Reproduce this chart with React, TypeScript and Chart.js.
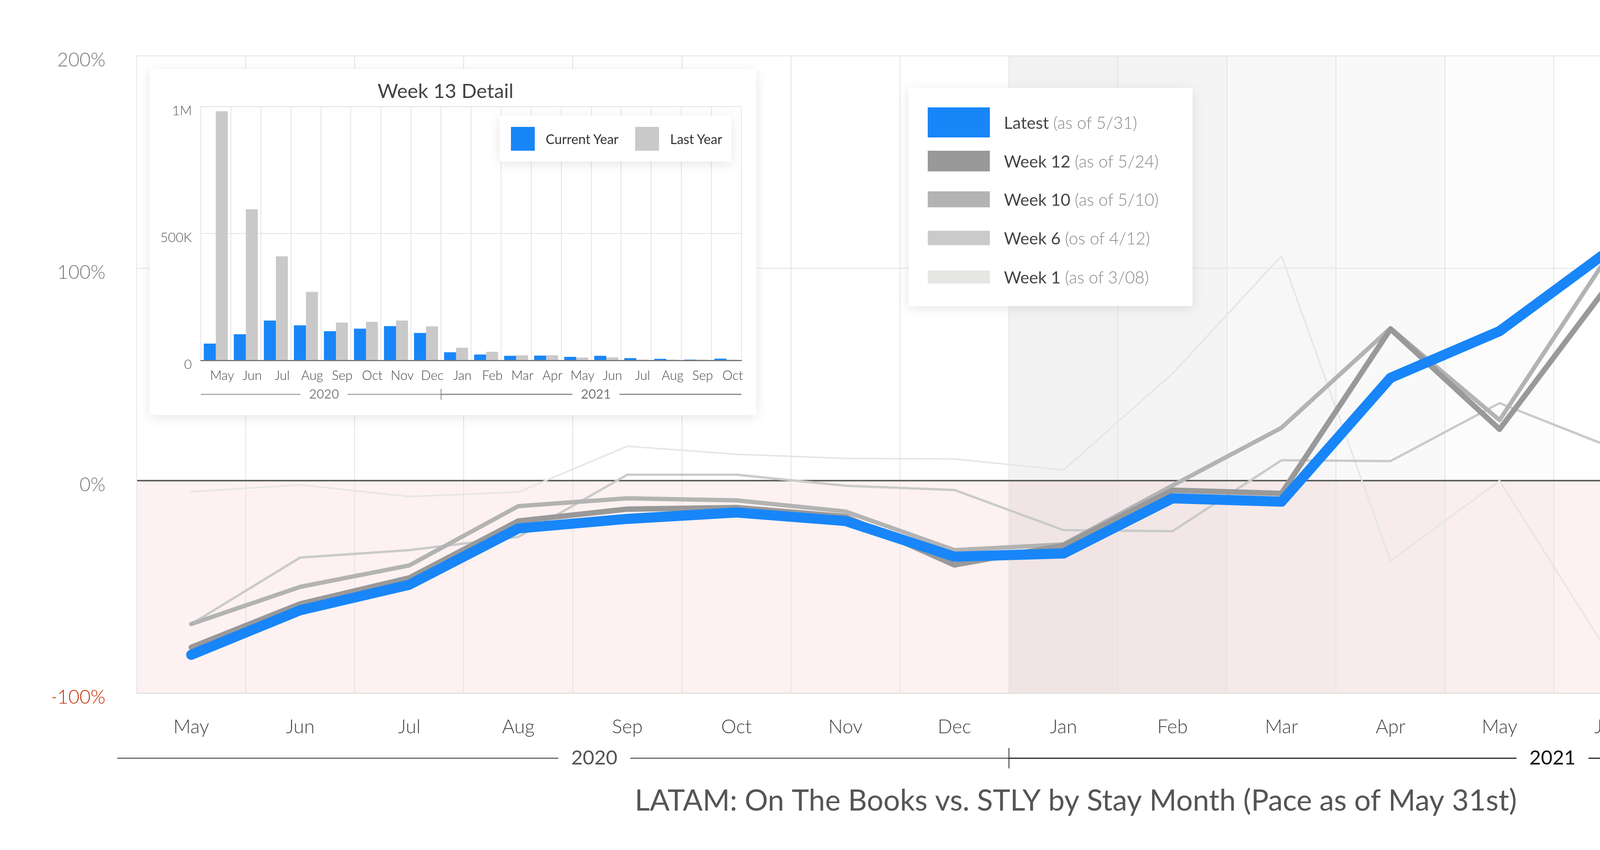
import { useEffect, useRef } from 'react'
import { Chart, registerables } from 'chart.js'
import type { Plugin } from 'chart.js'

Chart.register(...registerables)

// stay months, May 2020 .. Oct 2021
const months = ['May', 'Jun', 'Jul', 'Aug', 'Sep', 'Oct', 'Nov', 'Dec', 'Jan', 'Feb', 'Mar', 'Apr', 'May', 'Jun', 'Jul', 'Aug', 'Sep', 'Oct']
const yearLabels = ['2020', '2021']
const yearFirstIndex = [0, 8]
const yearLastIndex = [7, 17]

// OTB vs STLY, percent
const latest = [-82, -61, -49, -22.5, -18, -15, -19, -35.8, -34.3, -8.3, -9.9, 48.4, 70.4, 108.2, 18.6, -40.2, 81.3, -16.3]
const week12 = [-78.5, -58, -45.8, -19, -13.4, -12.7, -16.9, -39.7, -30.5, -4.5, -6, 71.4, 24.2, 92.3, -24.8, -52.1, -29.2, -30.8]
const week10 = [-67.5, -50, -39.9, -12, -8.3, -9.3, -14.5, -32.7, -30, -2.3, 24.9, 71.8, 28.5, 106.2, -44.8, -50.2, -19.3, 45.5]
const week6 = [-67.5, -36.2, -32.7, -26.5, 2.8, 2.8, -2.4, -4.4, -23.3, -23.8, 9.6, 9.2, 36.5, 16.2, 28.5, -41.2, -42.2, 0]
const week1 = [-5.2, -2, -7.5, -5.4, 16.2, 12.4, 10.5, 10.2, 5, 50.4, 105.8, -37.8, 0, -81.4, -24.3, -42, -44.2, -11.3]

const seriesNames = ['Latest', 'Week 12', 'Week 10', 'Week 6', 'Week 1']
const seriesNotes = ['(as of 5/31)', '(as of 5/24)', '(as of 5/10)', '(os of 4/12)', '(as of 3/08)']
const seriesValues = [latest, week12, week10, week6, week1]

// week 13 detail, room nights
const currentYear = [66, 103, 157, 138, 115, 125, 135, 108, 32, 23, 18, 19, 14, 18, 9, 6, 3, 7].map(v => v * 1000)
const lastYear = [982, 596, 410, 270, 149, 152, 157, 134, 50, 34, 20, 20, 11, 12, 3, 3, 3, 3].map(v => v * 1000)

const mainTitle = 'LATAM: On The Books vs. STLY by Stay Month (Pace as of May 31st)'
const insetTitle = 'Week 13 Detail'

const BLUE = '#1886f8'
const lineColors = [BLUE, '#999999', '#b3b3b3', '#cacaca', '#e6e6e5']
const lineWidths = [26, 14, 11, 6, 4]
const legendBoxHeights = [77, 53, 41, 37, 33]
const legendRowCenters = [88, 187, 285, 384, 484]
const shadeAlpha = [0.05, 0.042, 0.031, 0.022, 0.012]
const FONT = 'Lato'

interface YearAxisOpts {
  offsetY: number
  size: number
  gap: number
  extendLeft: number
  extendRight: number
  shift: number[]
  lineColors: string[]
  textColors: string[]
  tickHalf: number
}

function yearAxis(id: string, o: YearAxisOpts): Plugin {
  return {
    id,
    afterDraw(chart) {
      const x = chart.scales.x
      const ctx = chart.ctx
      const y = chart.chartArea.bottom + o.offsetY
      const half = (x.getPixelForValue(1) - x.getPixelForValue(0)) / 2
      ctx.save()
      ctx.font = `400 ${o.size}px ${FONT}`
      ctx.textAlign = 'center'
      ctx.textBaseline = 'middle'
      ctx.lineWidth = 3
      yearLabels.forEach((label, g) => {
        let left = x.getPixelForValue(yearFirstIndex[g]) - half
        let right = x.getPixelForValue(yearLastIndex[g]) + half
        if (g === 0) left -= o.extendLeft
        if (g === yearLabels.length - 1) right += o.extendRight
        const mid = (left + right) / 2 + o.shift[g]
        const w = ctx.measureText(label).width / 2 + o.gap
        ctx.strokeStyle = o.lineColors[g]
        ctx.beginPath()
        ctx.moveTo(left, y)
        ctx.lineTo(mid - w, y)
        ctx.moveTo(mid + w, y)
        ctx.lineTo(right, y)
        ctx.stroke()
        if (g > 0) {
          ctx.lineWidth = 2
          ctx.beginPath()
          ctx.moveTo(left, y - o.tickHalf)
          ctx.lineTo(left, y + o.tickHalf)
          ctx.stroke()
          ctx.lineWidth = 3
        }
        ctx.fillStyle = o.textColors[g]
        ctx.fillText(label, mid, y)
      })
      ctx.restore()
    },
  }
}

const backdrop: Plugin = {
  id: 'backdrop',
  beforeDraw(chart) {
    const { ctx, chartArea } = chart
    const x = chart.scales.x
    const y = chart.scales.y
    const zero = y.getPixelForValue(0)
    const half = (x.getPixelForValue(1) - x.getPixelForValue(0)) / 2
    ctx.save()
    ctx.fillStyle = '#fdf1f1'
    ctx.fillRect(chartArea.left, zero, chartArea.right - chartArea.left, chartArea.bottom - zero)
    shadeAlpha.forEach((a, i) => {
      const cx = x.getPixelForValue(yearFirstIndex[1] + i)
      ctx.fillStyle = `rgba(0,0,0,${a})`
      ctx.fillRect(cx - half, chartArea.top, half * 2, chartArea.bottom - chartArea.top)
    })
    ctx.restore()
  },
  beforeDatasetsDraw(chart) {
    const { ctx, chartArea } = chart
    ctx.save()
    ctx.font = `700 300px ${FONT}`
    ctx.fillStyle = 'rgba(150,120,120,0.11)'
    ctx.textAlign = 'left'
    ctx.textBaseline = 'alphabetic'
    ctx.fillText('duetto', chartArea.right - 1160, chartArea.bottom - 27)
    ctx.restore()
  },
}

function MainChart() {
  const canvasRef = useRef<HTMLCanvasElement>(null)
  const chartRef = useRef<Chart | null>(null)

  useEffect(() => {
    if (!canvasRef.current) return
    chartRef.current?.destroy()

    chartRef.current = new Chart(canvasRef.current, {
      type: 'line',
      data: {
        labels: months,
        datasets: seriesValues.map((vals, i) => ({
          label: seriesNames[i],
          data: vals,
          borderColor: lineColors[i],
          backgroundColor: lineColors[i],
          borderWidth: lineWidths[i],
          pointRadius: 0,
          tension: 0,
          borderJoinStyle: 'round' as const,
          borderCapStyle: 'round' as const,
          fill: false,
        })),
      },
      options: {
        responsive: true,
        maintainAspectRatio: false,
        animation: false,
        // left padding + axis width keep the plot at x=350 and centre the title on 2754
        layout: { padding: { top: 143, right: 118, left: 134, bottom: 0 } },
        plugins: {
          legend: { display: false },
          tooltip: { enabled: false },
          title: {
            display: true,
            text: mainTitle,
            position: 'bottom',
            color: '#555',
            font: { family: FONT, size: 75, weight: 400 },
            padding: { top: 0, bottom: 80 },
          },
        },
        scales: {
          x: {
            offset: true,
            grid: { offset: true, color: '#e3e3e3', lineWidth: 2, drawTicks: false },
            border: { display: true, color: '#e0e0e0', width: 3 },
            ticks: {
              color: '#444',
              font: { family: FONT, size: 49, weight: 300 },
              padding: 58,
              maxRotation: 0,
              autoSkip: false,
            },
            afterFit: scale => { scale.height = 232 },
          },
          y: {
            min: -100,
            max: 200,
            grid: {
              color: c => (c.tick.value === 0 ? '#5f5f5f' : '#e3e3e3'),
              lineWidth: c => (c.tick.value === 0 ? 4 : 2),
              drawTicks: false,
            },
            border: { display: true, color: '#e6e6e6', width: 2 },
            ticks: {
              stepSize: 100,
              callback: v => `${v}%`,
              color: c => (c.tick.value < 0 ? '#c62d05' : '#777'),
              font: { family: FONT, size: 49, weight: 300 },
              padding: 80,
              labelOffset: 11,
            },
            afterFit: scale => { scale.width = 216 },
          },
        },
      },
      plugins: [
        backdrop,
        yearAxis('years', {
          offsetY: 167,
          size: 51,
          gap: 33,
          extendLeft: 50,
          extendRight: -8,
          shift: [80, 0],
          lineColors: ['#666', '#222'],
          textColors: ['#555', '#111'],
          tickHalf: 26,
        }),
      ],
    })

    return () => chartRef.current?.destroy()
  }, [])

  return <canvas ref={canvasRef} />
}

function DetailChart() {
  const canvasRef = useRef<HTMLCanvasElement>(null)
  const chartRef = useRef<Chart | null>(null)

  useEffect(() => {
    if (!canvasRef.current) return
    chartRef.current?.destroy()

    chartRef.current = new Chart(canvasRef.current, {
      type: 'bar',
      data: {
        labels: months,
        datasets: [
          { label: 'Current Year', data: currentYear, backgroundColor: BLUE, categoryPercentage: 0.8, barPercentage: 1 },
          { label: 'Last Year', data: lastYear, backgroundColor: '#c9c9c9', categoryPercentage: 0.8, barPercentage: 1 },
        ],
      },
      options: {
        responsive: true,
        maintainAspectRatio: false,
        animation: false,
        layout: { padding: { top: 0, right: 38, left: 0, bottom: 0 } },
        plugins: {
          legend: { display: false },
          tooltip: { enabled: false },
          title: {
            display: true,
            text: insetTitle,
            color: '#444',
            font: { family: FONT, size: 51, weight: 400 },
            padding: { top: 27, bottom: 8 },
          },
        },
        scales: {
          x: {
            offset: true,
            grid: { offset: true, color: '#e4e4e4', lineWidth: 2, drawTicks: false },
            border: { display: true, color: '#777', width: 3 },
            ticks: {
              color: '#444',
              font: { family: FONT, size: 33, weight: 300 },
              padding: 20,
              labelOffset: 16,
              maxRotation: 0,
              autoSkip: false,
            },
            afterFit: scale => { scale.height = 140 },
          },
          y: {
            min: 0,
            max: 1000000,
            grid: { color: '#e2e2e2', lineWidth: 2, drawTicks: false },
            border: { display: false },
            ticks: {
              stepSize: 500000,
              callback: v => (Number(v) === 0 ? '0' : Number(v) >= 1000000 ? `${Number(v) / 1000000}M` : `${Number(v) / 1000}K`),
              color: '#555',
              font: { family: FONT, size: 34, weight: 300 },
              padding: 23,
              labelOffset: 11,
            },
            afterFit: scale => { scale.width = 131 },
          },
        },
      },
      plugins: [
        yearAxis('detailYears', {
          offsetY: 87,
          size: 33,
          gap: 22,
          extendLeft: 0,
          extendRight: 0,
          shift: [8, 12],
          lineColors: ['#aaa', '#888'],
          textColors: ['#888', '#777'],
          tickHalf: 14,
        }),
      ],
    })

    return () => chartRef.current?.destroy()
  }, [])

  return <canvas ref={canvasRef} />
}

const shadow = '0 6px 28px rgba(0,0,0,0.10)'

export default function App() {
  return (
    <div style={{ position: 'absolute', left: 0, top: 0, width: 5492, height: 2177, background: '#fff', fontFamily: FONT, overflow: 'hidden' }}>
      <div style={{ position: 'absolute', left: 0, top: 0, width: 5492, height: 2177 }}>
        <MainChart />
      </div>

      <div style={{ position: 'absolute', left: 383, top: 177, width: 1553, height: 886, background: '#fff', boxShadow: shadow }}>
        <div style={{ position: 'absolute', left: 0, top: 0, width: 1553, height: 886 }}>
          <DetailChart />
        </div>
        <div style={{ position: 'absolute', left: 896, top: 119, width: 593, height: 118, background: '#fff', boxShadow: shadow, display: 'flex', alignItems: 'center', fontSize: 34, color: '#333' }}>
          <span style={{ width: 61, height: 61, background: BLUE, marginLeft: 29, marginRight: 28 }} />
          <span>Current Year</span>
          <span style={{ width: 61, height: 61, background: '#c9c9c9', marginLeft: 43, marginRight: 28 }} />
          <span>Last Year</span>
        </div>
      </div>

      <div style={{ position: 'absolute', left: 2326, top: 225, width: 727, height: 559, background: '#fff', boxShadow: shadow }}>
        {seriesNames.map((name, i) => (
          <div key={name} style={{ position: 'absolute', left: 49, top: legendRowCenters[i] - 40, height: 80, display: 'flex', alignItems: 'center', whiteSpace: 'nowrap' }}>
            <span style={{ width: 159, height: legendBoxHeights[i], background: lineColors[i], marginRight: 36 }} />
            <span style={{ fontSize: 43, color: '#444', fontWeight: 400 }}>{name}</span>
            <span style={{ fontSize: 43, color: '#888', fontWeight: 300, marginLeft: 11 }}>{seriesNotes[i]}</span>
          </div>
        ))}
      </div>
    </div>
  )
}
